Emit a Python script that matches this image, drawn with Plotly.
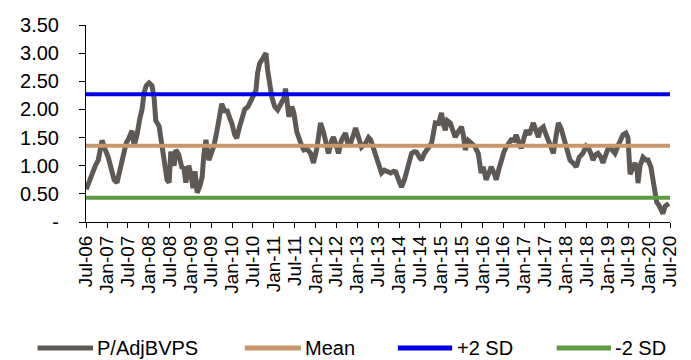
import plotly.graph_objects as go
import pandas as pd

# Time (decimal year) and P/AdjBVPS values
years = [
    2006.50, 2006.60, 2006.72, 2006.79, 2006.83, 2006.88, 2006.95, 2007.03, 2007.10, 2007.17,
    2007.24, 2007.31, 2007.39, 2007.46, 2007.53, 2007.60, 2007.65, 2007.72, 2007.79, 2007.84,
    2007.89, 2007.94, 2008.01, 2008.08, 2008.13, 2008.17, 2008.25, 2008.32, 2008.39, 2008.44,
    2008.49, 2008.53, 2008.61, 2008.65, 2008.72, 2008.80, 2008.84, 2008.89, 2008.96, 2009.01,
    2009.06, 2009.11, 2009.16, 2009.23, 2009.28, 2009.32, 2009.37, 2009.44, 2009.51, 2009.56,
    2009.63, 2009.68, 2009.75, 2009.83, 2009.87, 2009.94, 2009.99, 2010.06, 2010.11, 2010.18,
    2010.23, 2010.30, 2010.38, 2010.45, 2010.52, 2010.57, 2010.61, 2010.66, 2010.73, 2010.81,
    2010.85, 2010.90, 2010.95, 2011.02, 2011.09, 2011.17, 2011.24, 2011.28, 2011.36, 2011.43,
    2011.48, 2011.55, 2011.60, 2011.67, 2011.72, 2011.79, 2011.88, 2011.95, 2012.03, 2012.12,
    2012.19, 2012.24, 2012.31, 2012.39, 2012.43, 2012.50, 2012.55, 2012.62, 2012.72, 2012.77,
    2012.84, 2012.91, 2012.96, 2013.03, 2013.10, 2013.20, 2013.27, 2013.32, 2013.39, 2013.44,
    2013.51, 2013.58, 2013.65, 2013.73, 2013.80, 2013.87, 2013.92, 2013.99, 2014.06, 2014.13,
    2014.18, 2014.25, 2014.30, 2014.37, 2014.42, 2014.49, 2014.54, 2014.61, 2014.66, 2014.73,
    2014.78, 2014.83, 2014.87, 2014.95, 2015.02, 2015.06, 2015.11, 2015.16, 2015.23, 2015.28,
    2015.35, 2015.42, 2015.50, 2015.54, 2015.59, 2015.66, 2015.73, 2015.81, 2015.90, 2015.97,
    2016.02, 2016.09, 2016.17, 2016.21, 2016.29, 2016.33, 2016.40, 2016.45, 2016.52, 2016.57,
    2016.64, 2016.69, 2016.76, 2016.81, 2016.88, 2016.93, 2017.00, 2017.05, 2017.12, 2017.17,
    2017.22, 2017.27, 2017.34, 2017.39, 2017.46, 2017.50, 2017.58, 2017.65, 2017.70, 2017.77,
    2017.82, 2017.89, 2017.94, 2018.01, 2018.06, 2018.10, 2018.17, 2018.25, 2018.32, 2018.41,
    2018.49, 2018.53, 2018.61, 2018.65, 2018.72, 2018.77, 2018.84, 2018.89, 2018.96, 2019.01,
    2019.06, 2019.13, 2019.18, 2019.25, 2019.30, 2019.37, 2019.44, 2019.49, 2019.54, 2019.59,
    2019.66, 2019.71, 2019.73, 2019.78, 2019.85, 2019.92, 2019.97, 2020.04, 2020.09, 2020.14,
    2020.18, 2020.23, 2020.28, 2020.33, 2020.38, 2020.42, 2020.47,
]
pbv = [
    0.58, 0.80, 1.00, 1.10, 1.25, 1.45, 1.30, 1.15, 0.95, 0.75,
    0.70, 0.95, 1.15, 1.40, 1.50, 1.62, 1.35, 1.55, 1.85, 2.00,
    2.30, 2.42, 2.47, 2.42, 2.20, 1.80, 1.70, 1.40, 1.00, 0.75,
    0.70, 1.25, 1.00, 1.28, 1.20, 0.95, 0.98, 0.70, 1.00, 0.85,
    0.60, 0.90, 0.52, 0.65, 0.80, 1.20, 1.46, 1.10, 1.25, 1.35,
    1.60, 1.80, 2.10, 1.95, 2.00, 1.85, 1.76, 1.55, 1.49, 1.70,
    1.85, 2.00, 2.05, 2.17, 2.25, 2.34, 2.65, 2.82, 2.90, 3.00,
    2.70, 2.45, 2.22, 2.05, 1.99, 2.10, 2.20, 2.37, 1.87, 2.05,
    1.94, 1.60, 1.46, 1.35, 1.28, 1.30, 1.22, 1.05, 1.30, 1.76,
    1.60, 1.46, 1.22, 1.45, 1.51, 1.35, 1.22, 1.45, 1.58, 1.40,
    1.40, 1.55, 1.67, 1.50, 1.33, 1.40, 1.50, 1.46, 1.30, 1.15,
    1.00, 0.87, 0.92, 0.88, 0.87, 0.90, 0.89, 0.75, 0.62, 0.75,
    0.87, 1.05, 1.22, 1.25, 1.24, 1.15, 1.10, 1.22, 1.28, 1.35,
    1.40, 1.60, 1.76, 1.75, 1.94, 1.75, 1.63, 1.80, 1.76, 1.65,
    1.51, 1.60, 1.69, 1.55, 1.28, 1.45, 1.40, 1.35, 1.22, 0.87,
    0.98, 0.75, 0.90, 0.98, 0.85, 0.75, 0.95, 1.10, 1.25, 1.33,
    1.40, 1.46, 1.45, 1.55, 1.40, 1.31, 1.50, 1.63, 1.55, 1.70,
    1.76, 1.65, 1.51, 1.65, 1.69, 1.60, 1.46, 1.35, 1.22, 1.55,
    1.76, 1.65, 1.51, 1.30, 1.20, 1.10, 1.05, 0.98, 1.15, 1.22,
    1.35, 1.33, 1.20, 1.10, 1.20, 1.22, 1.15, 1.05, 1.20, 1.30,
    1.33, 1.25, 1.22, 1.35, 1.46, 1.55, 1.58, 1.50, 0.85, 0.95,
    1.05, 0.90, 0.69, 1.00, 1.15, 1.10, 1.10, 0.98, 0.75, 0.51,
    0.35, 0.30, 0.22, 0.15, 0.28, 0.30, 0.33,
]

mean_val = 1.355
plus2sd = 2.27
minus2sd = 0.43

series_names = ["P/AdjBVPS", "Mean", "+2 SD", "-2 SD"]
series_colors = ["#5f5955", "#c99669", "#0000e6", "#5e9b40"]

x_start = "2006-07-01"
x_end = "2020-07-01"

tick_dates = pd.date_range("2006-07-01", "2020-07-01", freq="6MS")
tick_labels = [d.strftime("%b-%y") for d in tick_dates]

y_vals = [0, 0.5, 1.0, 1.5, 2.0, 2.5, 3.0, 3.5]
y_labels = ["-", "0.50", "1.00", "1.50", "2.00", "2.50", "3.00", "3.50"]


def to_date(y):
    yr = int(y)
    return pd.Timestamp(year=yr, month=1, day=1) + pd.Timedelta(days=(y - yr) * 365.25)


dates = [to_date(y) for y in years]

FONT = "Arial, 'Liberation Sans', sans-serif"

fig = go.Figure()
fig.add_trace(go.Scatter(x=dates, y=pbv, mode="lines", name=series_names[0],
                         line=dict(color=series_colors[0], width=5)))
for name, color, val in zip(series_names[1:], series_colors[1:], [mean_val, plus2sd, minus2sd]):
    fig.add_trace(go.Scatter(x=[x_start, x_end], y=[val, val], mode="lines", name=name,
                             line=dict(color=color, width=4)))

# Legend drawn below the chart (Excel-style long line keys)
legend_line_x = [(-0.083, 0.012), (0.272, 0.368), (0.534, 0.627), (0.806, 0.899)]
legend_y = -0.64
for (x0, x1), name, color in zip(legend_line_x, series_names, series_colors):
    fig.add_shape(type="line", xref="paper", yref="paper", x0=x0, x1=x1,
                  y0=legend_y, y1=legend_y, line=dict(color=color, width=5))
    fig.add_annotation(xref="paper", yref="paper", x=x1 + 0.004, y=legend_y,
                       text=name, showarrow=False, xanchor="left", yanchor="middle",
                       font=dict(size=20, color="black"))

# page body adds an 8px offset; margins compensate so the plot lands where the reference has it
fig.update_layout(
    width=691, height=360,
    margin=dict(l=78, r=29, t=17, b=146),
    paper_bgcolor="white", plot_bgcolor="white",
    font=dict(family=FONT, size=20, color="black"),
    showlegend=False,
    xaxis=dict(type="date", range=[x_start, x_end], tickvals=tick_dates, ticktext=tick_labels,
               tickangle=-90, showgrid=False, zeroline=False, showline=True,
               linecolor="black", linewidth=1, ticks="outside", ticklen=5,
               tickcolor="black", tickfont=dict(size=19), automargin=False),
    yaxis=dict(range=[0, 3.5], tickvals=y_vals, ticktext=y_labels, showgrid=False,
               zeroline=False, showline=True, linecolor="black", linewidth=1,
               ticks="outside", ticklen=6, tickcolor="black", ticklabelstandoff=16,
               tickfont=dict(size=20), automargin=False),
)

fig.write_html("out.html")
